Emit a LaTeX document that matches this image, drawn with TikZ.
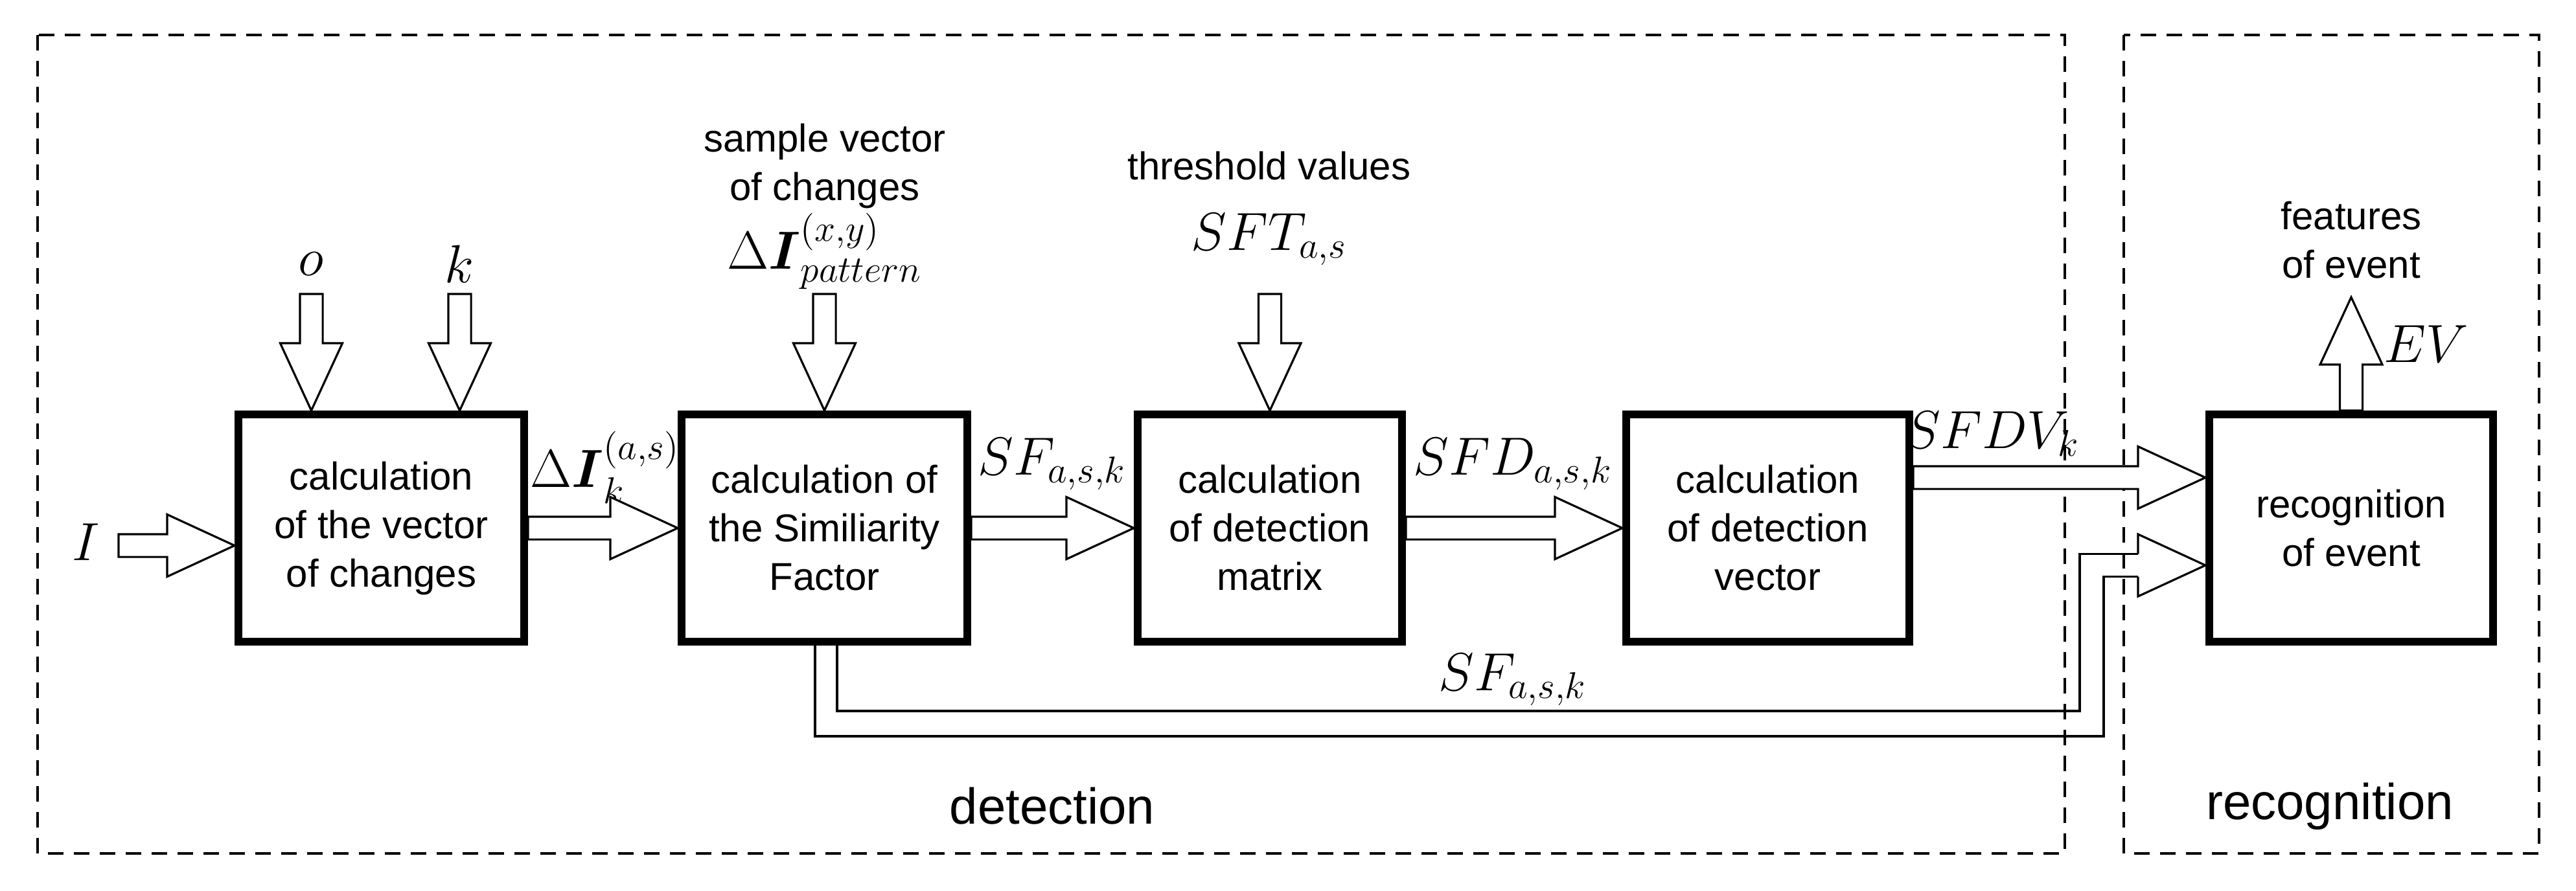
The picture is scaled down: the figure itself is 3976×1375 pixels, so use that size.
\documentclass[tikz,border=0pt]{standalone}
\usepackage{amsmath}
\usepackage{fontspec}
\setmainfont{Liberation Sans}
\usetikzlibrary{calc}
\newcommand\blW{4.4pt}
\newcommand\blH{12pt}
\newcommand\blL{26pt}
\newcommand\barr[2]{%
  \path (#1) coordinate (ba) (#2) coordinate (bb);
  \path ($(bb)!\blL!(ba)$) coordinate (bq);
  \draw[blk] ($(ba)!\blW!90:(bb)$) -- ($(bq)!\blW!-90:(ba)$) -- ($(bq)!\blH!-90:(ba)$) -- (bb)
    -- ($(bq)!\blH!90:(ba)$) -- ($(bq)!\blW!90:(ba)$) -- ($(ba)!\blW!-90:(bb)$) -- cycle;}
\begin{document}
\begin{tikzpicture}[x=0.25pt,y=-0.25pt,
  box/.style={draw,line width=3pt,inner sep=0pt,minimum height=87.75pt,align=center,
    font=\fontsize{15}{18.75}\selectfont},
  blk/.style={draw,line width=0.8pt,fill=white,line join=miter},
  area/.style={draw,line width=0.9pt,dash pattern=on 6pt off 4pt},
  txt/.style={align=center,inner sep=0pt,font=\fontsize{15}{18.75}\selectfont},
  mth/.style={inner sep=0pt,font=\fontsize{20.5}{24}\selectfont},
  big/.style={inner sep=0pt,font=\fontsize{19.5}{22}\selectfont}]
\useasboundingbox (0,0) rectangle (3976,1375);
\draw[area] (58,54) rectangle (3187,1318);
\draw[area] (3278,54) rectangle (3919,1318);
\node[box,minimum width=110.25pt] (b1) at (588.5,815.5) {calculation\\of the vector\\of changes};
\node[box,minimum width=110.25pt] (b2) at (1272.5,815.5) {calculation of\\the Similiarity\\Factor};
\node[box,minimum width=102pt] (b3) at (1960,815.5) {calculation\\of detection\\matrix};
\node[box,minimum width=109.25pt] (b4) at (2728.5,815.5) {calculation\\of detection\\vector};
\node[box,minimum width=109.5pt] (b5) at (3629,815.5) {recognition\\of event};
% labels
\node[mth] (lI) at (133,837) {$I$};
\node[mth] (lo) at (480,408) {$o$};
\node[mth] (lk) at (709,408) {$k$};
\node[mth] (ldi) at (934,722) {$\Delta\boldsymbol{I}_k^{(a,s)}$};
\node[txt] (ts1) at (1273,219) {sample vector};
\node[txt] (ts2) at (1273,294) {of changes};
\node[mth] (lpat) at (1273,388) {$\Delta\boldsymbol{I}_{pattern}^{(x,y)}$};
\node[txt] (tth) at (1959,256) {threshold values};
\node[mth] (lsft) at (1959,370) {$SFT_{a,s}$};
\node[mth] (lsf) at (1624,717) {$SF_{a,s,k}$};
\node[mth] (lsfd) at (2335,717) {$SFD_{a,s,k}$};
\node[mth] (lsfdv) at (3075,670) {$SFDV_k$};
\node[mth] (lsf2) at (2335,1050) {$SF_{a,s,k}$};
\node[txt] (tf1) at (3629,333) {features};
\node[txt] (tf2) at (3629,408) {of event};
\node[mth] (lev) at (3745,531) {$EV$};
\node[big] (tdet) at (1624,1245) {detection};
\node[big] (trec) at (3596,1245) {recognition};
% arrows
\coordinate (iin) at ($(b1.west)+(-179,27)$);
\barr{iin}{$(b1.west)+(0,27)$}
\barr{$(b1.north)+(-108,-180)$}{$(b1.north)+(-108,0)$}
\barr{$(b1.north)+(121,-180)$}{$(b1.north)+(121,0)$}
\barr{$(b2.north)+(0,-180)$}{b2.north}
\barr{$(b3.north)+(0,-180)$}{b3.north}
\barr{b1.east}{b2.west}
\barr{b2.east}{b3.west}
\barr{b3.east}{b4.west}
\barr{$(b4.east)+(0,-78)$}{$(b5.west)+(0,-78)$}
\barr{b5.north}{$(b5.north)+(0,-175)$}
% bypass SF
\coordinate (hb) at ($(b5.west)+(-104,57.5)$);
\draw[line width=0.8pt] ($(b2.south)+(19.5,0)$) |- (3210,1098) |- ($(hb)+(0,-17.5)$);
\draw[line width=0.8pt] ($(b2.south)+(-14.5,0)$) |- (3247,1137) |- ($(hb)+(0,17.5)$);
\draw[line width=0.8pt,fill=white] ($(hb)+(0,-17.5)$) -- ($(hb)+(0,-48)$) -- ($(b5.west)+(0,57.5)$) -- ($(hb)+(0,48)$) -- ($(hb)+(0,17.5)$);
\end{tikzpicture}
\end{document}
